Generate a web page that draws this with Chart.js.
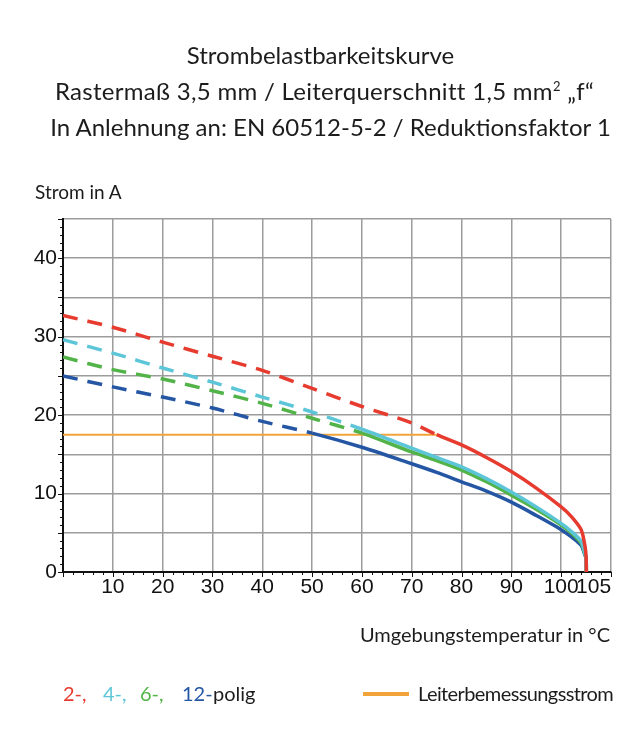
<!DOCTYPE html>
<html>
<head>
<meta charset="utf-8">
<script src="https://cdn.jsdelivr.net/npm/chart.js@4.4.1/dist/chart.umd.min.js"></script>
<style>
body { margin: 0; background: #fff; font-family: Lato, sans-serif; color: #1c1c1c; }
#wrap { position: relative; width: 641px; height: 751px; overflow: hidden; }
#chart { position: absolute; left: 0; top: 0; }
.txt { position: absolute; white-space: nowrap; }
#title { left: 0; width: 641px; top: 37px; text-align: center; font-size: 24px; line-height: 36px; }
#title sup { font-size: 13px; line-height: 0; vertical-align: 9px; }
#t2 { letter-spacing: 0.3px; padding-left: 8px; }
#t3 { padding-left: 20px; }
#ylab { left: 35px; top: 180px; font-size: 19px; }
#xlab { right: 31px; top: 622px; font-size: 20px; }
.leg { top: 681px; font-size: 20px; }
#rated { left: 363px; top: 681px; font-size: 20px; letter-spacing: -0.6px; }
#rated i { position: absolute; left: 0; top: 11px; width: 46px; height: 4px; background: #f2a33a; }
#rated span { margin-left: 55px; }
</style>
</head>
<body>
<div id="wrap">
  <canvas id="chart" width="641" height="751"></canvas>
  <div class="txt" id="title">Strombelastbarkeitskurve<br><span id="t2">Rastermaß 3,5 mm / Leiterquerschnitt 1,5 mm<sup>2</sup> „f“</span><br><span id="t3">In Anlehnung an: EN 60512-5-2 / Reduktionsfaktor 1</span></div>
  <div class="txt" id="ylab">Strom in A</div>
  <div class="txt" id="xlab">Umgebungstemperatur in °C</div>
  <div class="txt leg" style="left:63px;color:#e63b2e">2-,</div>
  <div class="txt leg" style="left:103px;color:#5cc6d8">4-,</div>
  <div class="txt leg" style="left:140px;color:#52b349">6-,</div>
  <div class="txt leg" style="left:182px;color:#2456a4">12-</div>
  <div class="txt leg" style="left:213px">polig</div>
  <div class="txt" id="rated"><i></i><span>Leiterbemessungsstrom</span></div>
</div>
<script>
// temperature in °C, current in A
const temps = [0, 10, 20, 30, 40, 50, 60, 70, 75, 80, 85, 90, 95, 100, 102, 104, 104.8, 105, 105.05];
const pol2  = [32.7, 31.2, 29.3, 27.5, 25.7, 23.4, 21.1, 19.0, 17.5, 16.2, 14.6, 12.8, 10.7, 8.3, 7.1, 5.4, 3.2, 1.9, 0];
const pol4  = [29.6, 27.9, 26.0, 24.2, 22.3, 20.4, 18.2, 15.8, 14.6, 13.4, 11.9, 10.2, 8.3, 6.2, 5.2, 3.9, 2.3, 1.9, 0];
const pol6  = [27.4, 25.8, 24.6, 23.1, 21.5, 19.6, 17.7, 15.3, 14.2, 13.0, 11.5, 9.8, 8.0, 6.0, 5.0, 3.7, 2.2, 1.9, 0];
const pol12 = [25.0, 23.6, 22.3, 20.9, 19.2, 17.7, 15.9, 13.8, 12.7, 11.5, 10.3, 8.9, 7.2, 5.4, 4.5, 3.4, 2.1, 1.9, 0];
// dashed part ends where the curve meets the rated current
const dashEnd = [75, 60, 60, 50];
const ratedX = [0, 75];
const ratedY = [17.5, 17.5];
// the "105" label sits a little right of 105 in the original
const xTicks = [0, 10, 20, 30, 40, 50, 60, 70, 80, 90, 100, 106.5, 110];
const xLabels = ['', '10', '20', '30', '40', '50', '60', '70', '80', '90', '100', '105', ''];

const colors = ['#e63b2e', '#5cc6d8', '#52b349', '#2456a4'];
const series = [pol2, pol4, pol6, pol12];

const curveSet = (vals, i) => ({
    data: temps.map((t, k) => ({ x: t, y: vals[k] })),
    borderColor: colors[i],
    borderWidth: 3.5,
    pointRadius: 0,
    tension: 0.3,
    segment: {
        borderDash: ctx => ctx.p1.parsed.x <= dashEnd[i] ? [15, 10] : []
    }
});

// small black ticks along both axes
const minorTicks = {
    id: 'minorTicks',
    afterDraw(chart) {
        const { ctx, scales: { x, y } } = chart;
        ctx.save();
        ctx.strokeStyle = '#111';
        ctx.lineWidth = 1;
        ctx.beginPath();
        for (let v = 0; v <= 110; v += 2) {
            const px = Math.round(x.getPixelForValue(v)) + 0.5;
            ctx.moveTo(px, y.bottom);
            ctx.lineTo(px, y.bottom + (v % 10 === 0 ? 5 : 3));
        }
        for (let v = 0; v <= 45; v += 1) {
            const py = Math.round(y.getPixelForValue(v)) + 0.5;
            ctx.moveTo(x.left, py);
            ctx.lineTo(x.left - (v % 5 === 0 ? 5 : 3), py);
        }
        ctx.stroke();
        ctx.restore();
    }
};

new Chart(document.getElementById('chart').getContext('2d'), {
    type: 'line',
    data: {
        datasets: [
            ...series.map(curveSet),
            {
                data: ratedX.map((t, k) => ({ x: t, y: ratedY[k] })),
                borderColor: '#f2a33a',
                borderWidth: 2,
                pointRadius: 0
            }
        ]
    },
    options: {
        responsive: false,
        animation: false,
        layout: { padding: { top: 219, right: 30, left: 0, bottom: 0 } },
        plugins: { legend: { display: false }, tooltip: { enabled: false } },
        scales: {
            x: {
                type: 'linear',
                min: 0,
                max: 110,
                afterBuildTicks: s => { s.ticks = xTicks.map(v => ({ value: v })); },
                afterFit: s => { s.height = 179; },
                ticks: {
                    color: '#111',
                    padding: 3,
                    font: { family: "'Liberation Sans Narrow', 'Liberation Sans', sans-serif", size: 21 },
                    callback: (v, i) => xLabels[i]
                },
                grid: {
                    drawTicks: false,
                    lineWidth: 1.5,
                    color: ctx => (ctx.tick && (ctx.tick.value === 106.5 || ctx.tick.value === 0)) ? 'rgba(0,0,0,0)' : '#9c9c9c'
                },
                border: { display: true, color: '#111', width: 2 }
            },
            y: {
                min: 0,
                max: 45,
                afterFit: s => { s.width = 63; },
                ticks: {
                    stepSize: 5,
                    color: '#111',
                    padding: 6,
                    font: { family: "'Liberation Sans Narrow', 'Liberation Sans', sans-serif", size: 21 },
                    callback: v => v % 10 === 0 ? String(v) : ''
                },
                grid: { drawTicks: false, lineWidth: 1.5, color: '#9c9c9c' },
                border: { display: true, color: '#111', width: 2 }
            }
        }
    },
    plugins: [minorTicks]
});
</script>
</body>
</html>
